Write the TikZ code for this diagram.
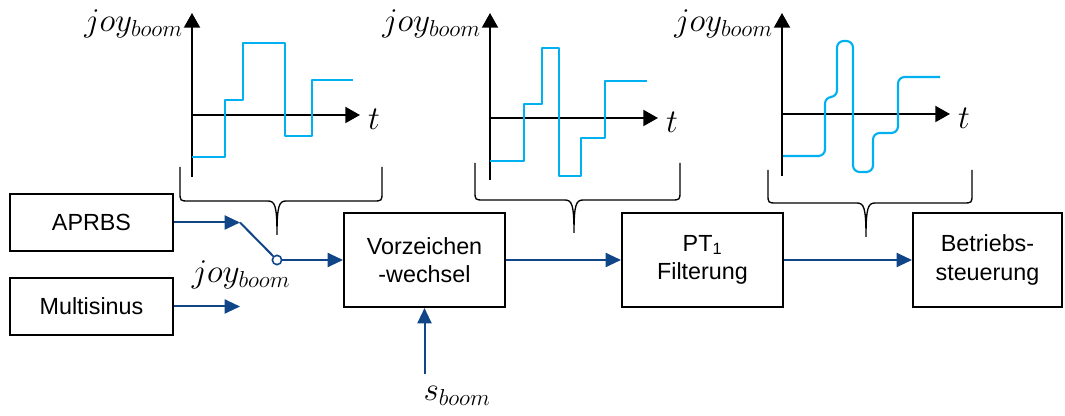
\documentclass[tikz,border=0pt]{standalone}
\usepackage{fontspec}
\setmainfont{Liberation Sans}
\DeclareMathSizes{23}{23}{18}{14}
\usetikzlibrary{arrows.meta}
\definecolor{sigblue}{RGB}{16,70,135}
\definecolor{crvcyan}{RGB}{0,176,240}
\tikzset{sig/.style={-{Triangle[length=11.5pt,width=10.5pt]}, draw=sigblue, line width=1.5pt},
  sigln/.style={draw=sigblue, line width=1.5pt},
  blk/.style={draw, line width=1.5pt, minimum width=120.75pt, minimum height=70.5pt, align=center,
    inner sep=2pt, font=\fontsize{17.5}{21.5}\selectfont},
  ax/.style={-{Triangle[length=11pt,width=12pt]}, line width=1.5pt},
  crv/.style={draw=crvcyan, line width=1.6pt, line join=round},
  brc/.style={line width=1pt},
  lbl/.style={font=\fontsize{23}{27}\selectfont, inner sep=0pt}}

\begin{document}
\begin{tikzpicture}[x=0.75pt,y=-0.75pt]
  \useasboundingbox (0,0) rectangle (1065,416);
  % blocks
  \node[blk, minimum width=122pt, minimum height=42.75pt] (aprbs) at (91.5,222.5) {APRBS};
  \node[blk, minimum width=122pt, minimum height=42.75pt] (msin) at (91.5,306.5) {Multisinus};
  \node[blk] (vzw) at (424.5,260) {Vorzeichen\\-wechsel};
  \node[blk] (pt1) at (702.5,260) {PT\textsubscript{1}\\Filterung};
  \node[blk, minimum width=111.75pt] (bst) at (987.5,260) {Betriebs-\\steuerung};
  % switch between the two sources
  \coordinate (sw) at (240,222.5);
  \coordinate (ms) at (240,306.5);
  \node[circle, draw=sigblue, fill=white, line width=1.2pt, inner sep=0pt, minimum size=7pt] (pole) at (277,260) {};
  \draw[sig] (aprbs) -- (sw);
  \draw[sig] (msin) -- (ms);
  \draw[sigln] (sw) -- (pole);
  \draw[sig] (pole) -- (vzw);
  \node[lbl] (jsw) at (241,275) {$joy_{boom}$};
  % chain
  \draw[sig] (vzw) -- (pt1);
  \draw[sig] (pt1) -- (bst);
  \coordinate (sb) at (424.5,374);
  \draw[sig] (sb) -- (vzw);
  \node[lbl] (sbl) at (457,396) {$s_{boom}$};
  % axes of the three plots
  \foreach \ox/\oy/\n in {192/115/a, 490/118/b, 782/114/c} {
    \draw[ax] (\ox,{\oy+62}) -- (\ox,13);
    \draw[ax] (\ox,\oy) -- ({\ox+168},\oy);
    \node[lbl, anchor=base east] (joy\n) at ({\ox-9},32) {$joy_{boom}$};
    \node[lbl] (t\n) at ({\ox+182},{\oy+4}) {$t$};
  }
  % signals
  \draw[crv] (192,157) -- (225,157) -- (225,100) -- (243,100) -- (243,43) -- (285,43) -- (285,136)
    -- (312,136) -- (312,80) -- (353,80);
  \draw[crv] (490,161) -- (524,161) -- (524,104) -- (542,104) -- (542,48) -- (559,48) -- (559,176)
    -- (581,176) -- (581,138) -- (605,138) -- (605,81) -- (647,81);
  \draw[crv, rounded corners=5pt] (783,156) -- (825,156) -- (825,97) -- (837,97) -- (837,41) -- (853,41)
    -- (853,172) -- (873,172) -- (873,133) -- (898,133) -- (898,77) -- (940,77);
  % braces
  \foreach \l/\r/\t/\h/\m/\tp in {180/382/167/201/277/235, 475/680/163/200/574/233, 768/972/170/203/866/237}
    \draw[brc] (\l,\t) -- (\l,{\h-9}) .. controls (\l,\h) .. ({\l+9},\h) -- ({\m-9},\h)
      .. controls ({\m-2},\h) and (\m,{\h+5}) .. (\m,\tp)
      .. controls (\m,{\h+5}) and ({\m+2},\h) .. ({\m+9},\h) -- ({\r-9},\h)
      .. controls (\r,\h) .. (\r,{\h-9}) -- (\r,\t);
\end{tikzpicture}
\end{document}
